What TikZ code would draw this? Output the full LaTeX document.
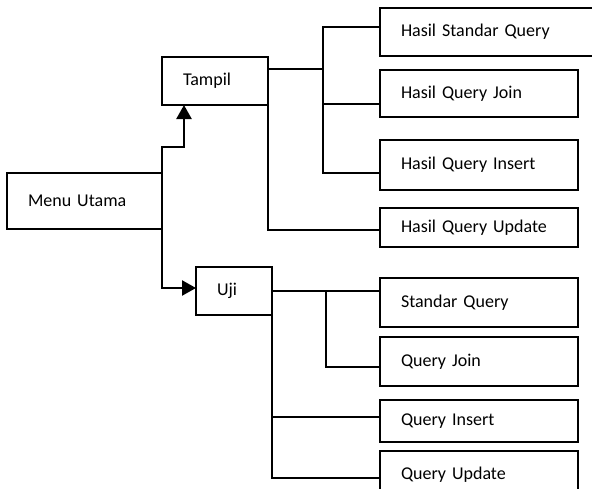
\documentclass[tikz,border=0pt]{standalone}
\usepackage{fontspec}
\setmainfont{Carlito}
\usetikzlibrary{arrows.meta}
\tikzset{
  box/.style={draw, line width=1.7pt, anchor=north west, outer sep=0pt, inner xsep=21pt, inner ysep=0pt,
    align=left, font=\fontsize{18}{21}\selectfont},
  conn/.style={line width=1.7pt},
  thickconn/.style={line width=2.6pt},
  arrowline/.style={line width=2.4pt, -{Triangle[length=14pt,width=15pt]}},
}
\newcommand{\bx}[6]{\node[box, text width=#4pt-42pt, minimum height=#5pt] (#1) at (#2,#3) {#6};}
\begin{document}
\begin{tikzpicture}[x=1pt,y=-1pt]
\useasboundingbox (0,0) rectangle (592,488);
\clip (0,0) rectangle (592,488);
\fill[white] (0,0) rectangle (592,488);
% boxes
\bx{M}{7}{173}{155}{56}{Menu Utama}
\bx{T}{162}{57}{106}{48}{Tampil}
\bx{U}{196}{267}{76}{48}{Uji}
\bx{HSQ}{380}{8}{230}{48}{Hasil Standar Query}
\bx{HQJ}{380}{70}{198}{47}{Hasil Query Join}
\bx{HQI}{380}{140}{198}{50}{Hasil Query Insert}
\bx{HQU}{380}{208}{198}{39}{Hasil Query Update}
\bx{SQ}{380}{278}{198}{49}{Standar Query}
\bx{QJ}{380}{337}{198}{49}{Query Join}
\bx{QI}{380}{400}{198}{42}{Query Insert}
\bx{QU}{380}{451}{198}{48}{Query Update}
% junction coordinates
\coordinate (tj) at (323,69);
\coordinate (t1) at (323,27);
\coordinate (t2) at (323,104);
\coordinate (t3) at (323,173);
\coordinate (t4) at (268,230);
\coordinate (m1) at (162,147);
\coordinate (m2) at (184,147);
\coordinate (m3) at (162,288);
\coordinate (m0) at (130,229);
\coordinate (u1) at (326,291);
\coordinate (u2) at (326,367);
\coordinate (u3) at (272,417);
\coordinate (u4) at (272,478);
% Tampil branches
\draw[thickconn] (tj -| T.east) -- (tj);
\draw[conn] (t1 -| HSQ.west) -- (t1) -- (t3) -- (t3 -| HQI.west);
\draw[conn] (t2) -- (t2 -| HQJ.west);
\draw[conn] (T.south east) -- (t4) -- (t4 -| HQU.west);
% Menu arrows
\draw[arrowline] (M.north east) -- (m1) -- (m2) -- (m2 |- T.south);
\draw[arrowline] (m0) -- (M.south east) -- (m3) -- (m3 -| U.west);
% Uji branches
\draw[conn] (u1 -| U.east) -- (u1) -- (u1 -| SQ.west);
\draw[conn] (u1) -- (u2) -- (u2 -| QJ.west);
\draw[conn] (U.south east) -- (u4) -- (u4 -| QU.west);
\draw[conn] (u3) -- (u3 -| QI.west);
\end{tikzpicture}
\end{document}
